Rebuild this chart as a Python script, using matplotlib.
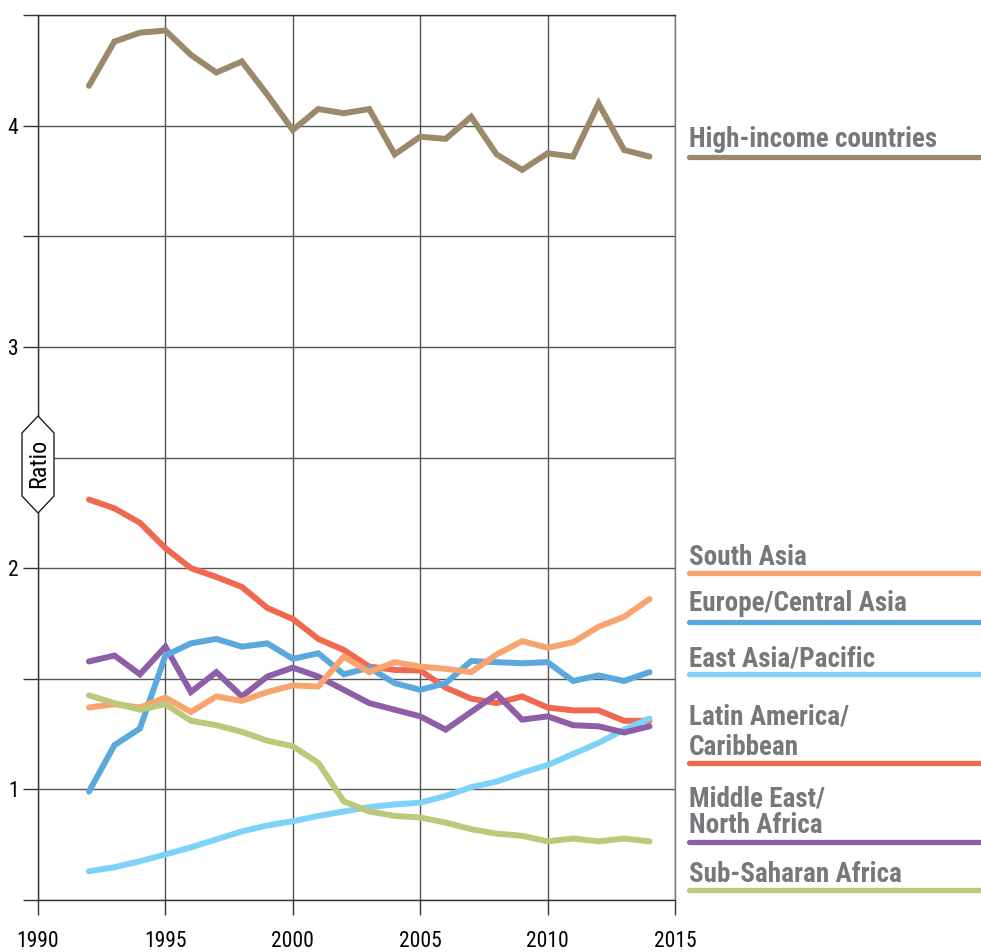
import matplotlib
matplotlib.use("Agg")
import matplotlib.pyplot as plt
from matplotlib import font_manager
from matplotlib.patches import Polygon
from matplotlib.lines import Line2D

# data
years = list(range(1992, 2015))

high_income = [4.18, 4.38, 4.42, 4.43, 4.32, 4.24, 4.29, 4.14, 3.98, 4.075, 4.056, 4.075,
               3.87, 3.95, 3.94, 4.04, 3.87, 3.80, 3.875, 3.86, 4.10, 3.89, 3.86]
latin_america = [2.31, 2.27, 2.205, 2.09, 2.00, 1.96, 1.915, 1.82, 1.77, 1.68, 1.63, 1.555,
                 1.54, 1.537, 1.46, 1.41, 1.39, 1.42, 1.37, 1.357, 1.357, 1.31, 1.31]
middle_east = [1.578, 1.605, 1.52, 1.645, 1.44, 1.53, 1.42, 1.51, 1.55, 1.51, 1.45, 1.39,
               1.36, 1.33, 1.27, 1.35, 1.43, 1.315, 1.33, 1.29, 1.285, 1.257, 1.285]
europe = [0.99, 1.20, 1.275, 1.605, 1.66, 1.68, 1.645, 1.66, 1.59, 1.615, 1.52, 1.55,
          1.48, 1.45, 1.48, 1.58, 1.575, 1.57, 1.575, 1.49, 1.515, 1.49, 1.53]
south_asia = [1.37, 1.385, 1.37, 1.415, 1.35, 1.42, 1.40, 1.44, 1.47, 1.465, 1.60, 1.53,
              1.575, 1.555, 1.545, 1.53, 1.61, 1.67, 1.64, 1.665, 1.735, 1.78, 1.86]
sub_saharan = [1.425, 1.39, 1.36, 1.385, 1.31, 1.29, 1.26, 1.22, 1.195, 1.12, 0.946, 0.90,
               0.88, 0.873, 0.85, 0.82, 0.80, 0.79, 0.765, 0.778, 0.765, 0.778, 0.765]
east_asia = [0.63, 0.648, 0.675, 0.706, 0.738, 0.774, 0.81, 0.837, 0.856, 0.88, 0.90, 0.92,
             0.932, 0.94, 0.97, 1.01, 1.035, 1.075, 1.11, 1.16, 1.21, 1.27, 1.32]

x_ticks = [1990, 1995, 2000, 2005, 2010, 2015]
y_ticks = [0.5, 1, 1.5, 2, 2.5, 3, 3.5, 4, 4.5]
y_labels = ["", "1", "", "2", "", "3", "", "4", ""]

W, H = 981, 952


def pick_font(names):
    have = set(f.name for f in font_manager.fontManager.ttflist)
    for n in names:
        if n in have:
            return n
    return "DejaVu Sans"


FONT = pick_font(["Liberation Sans Narrow", "Roboto Condensed", "Open Sans Condensed",
                  "Liberation Sans", "DejaVu Sans"])
plt.rcParams["font.family"] = [FONT, "DejaVu Sans"]


def fx(px):
    return px / W


def fy(py):
    return 1 - py / H


def main():
    fig = plt.figure(figsize=(W / 100, H / 100), dpi=100)
    ax = fig.add_axes([fx(38), fy(900), (675 - 38) / W, (900 - 15) / H])

    series = [
        (high_income, "#9a8a6a"),
        (latin_america, "#ef6950"),
        (east_asia, "#7fd2f7"),
        (middle_east, "#8e5ea6"),
        (europe, "#5ba8dc"),
        (south_asia, "#f8a46e"),
        (sub_saharan, "#bcc87a"),
    ]
    for vals, col in series:
        ax.plot(years, vals, color=col, lw=4.3, solid_capstyle="round",
                solid_joinstyle="miter")

    ax.set_xlim(1990, 2015)
    ax.set_ylim(0.5, 4.5)
    ax.set_xticks(x_ticks)
    ax.set_yticks(y_ticks)
    ax.set_yticklabels(y_labels)
    ax.grid(True, color="#555555", lw=1.0)
    ax.set_axisbelow(True)
    ax.tick_params(axis="both", length=11, width=1, color="#333333",
                   labelsize=15.5, pad=3)
    ax.tick_params(axis="x", pad=11)
    for s in ax.spines.values():
        s.set_color("#333333")
        s.set_linewidth(1.0)
    ax.spines["right"].set_color("#777777")

    # "Ratio" badge on the y axis
    badge = [(38, 416), (54, 433), (54, 496), (38, 513), (22, 496), (22, 433)]
    fig.patches.append(Polygon([(fx(a), fy(b)) for a, b in badge], closed=True,
                               transform=fig.transFigure, facecolor="white",
                               edgecolor="#222222", lw=1.0, zorder=5))
    fig.text(fx(38.5), fy(463), "Ratio", rotation=90, ha="center", va="center",
             fontsize=17.5, zorder=6)

    # right-hand labels with coloured underlines
    labels = [
        (["High-income countries"], [147], 157, "#9a8a6a"),
        (["South Asia"], [565], 573, "#f8a46e"),
        (["Europe/Central Asia"], [611], 622, "#5ba8dc"),
        (["East Asia/Pacific"], [666], 674, "#7fd2f7"),
        (["Latin America/", "Caribbean"], [725, 755], 763, "#ef6950"),
        (["Middle East/", "North Africa"], [806, 833], 842, "#8e5ea6"),
        (["Sub-Saharan Africa"], [882], 890, "#bcc87a"),
    ]
    for lines, bases, ly, col in labels:
        for t, b in zip(lines, bases):
            fig.text(fx(689), fy(b), t, ha="left", va="baseline", fontsize=19.5,
                     fontweight="bold", color="#77787b")
        fig.add_artist(Line2D([fx(689), fx(981)], [fy(ly), fy(ly)], color=col,
                              lw=3.8, solid_capstyle="round",
                              transform=fig.transFigure))

    fig.savefig("out.png", dpi=100)


if __name__ == "__main__":
    main()
